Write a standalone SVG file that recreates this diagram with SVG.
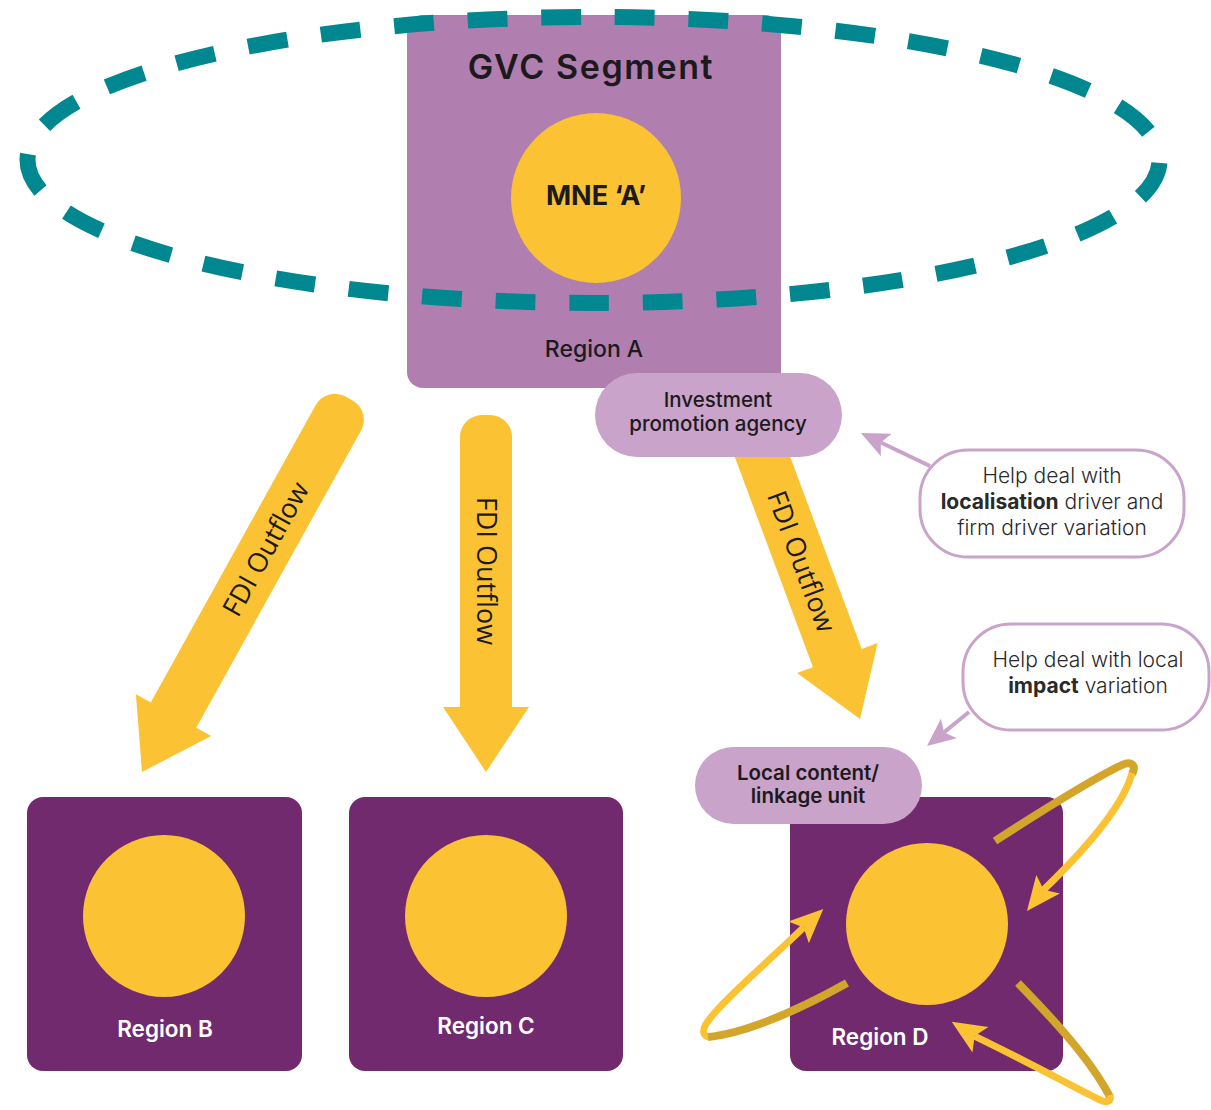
<svg xmlns="http://www.w3.org/2000/svg" width="1211" height="1110" viewBox="0 0 1211 1110">
  <defs>
    <style>
      .lbl { font-family: "Inter", "Liberation Sans", sans-serif; fill: #1c1a1c; text-anchor: middle; }
      .region { font-family: "Inter", "Liberation Sans", sans-serif; fill: #ffffff; font-size: 22.5px; font-weight: 600; text-anchor: middle; }
      .flow { font-family: "Open Sans", "Liberation Sans", sans-serif; fill: #1c1a1c; font-size: 27px; text-anchor: middle; }
      .box-dark { fill: #722a6f; }
      .sun { fill: #fbc234; }
      .pill { fill: #c9a3c9; }
      .callout { fill: #ffffff; stroke: #c9a3c9; stroke-width: 3; }
      .pointer { stroke: #c9a3c9; stroke-width: 4; fill: none; }
      .back { fill: none; stroke: #d4a52b; stroke-width: 8; }
      .front { fill: none; stroke: #fbc234; stroke-width: 7; }
      .note { font-family: "Inter", "Liberation Sans", sans-serif; fill: #2a2a2a; font-size: 21px; font-weight: 300; text-anchor: middle; }
    </style>
    <marker id="lilacHead" markerUnits="userSpaceOnUse" markerWidth="40" markerHeight="40" orient="auto" overflow="visible" refX="0" refY="0">
      <path d="M22,0 L-6,-12.5 L0,0 L-6,12.5 Z" fill="#c9a3c9"/>
    </marker>
    <path id="orbitHead" d="M0,0 L-34,-15 L-27,0 L-34,15 Z" fill="#fbc234"/>
  </defs>

  <rect width="1211" height="1110" fill="#ffffff"/>

  <!-- FDI outflow arrows -->
  <g id="flows">
    <g id="flow-b" transform="translate(142,772) rotate(29)">
      <path class="sun" d="M-26,-65 L-26,-405 A22,22 0 0 1 -4,-427 L4,-427 A22,22 0 0 1 26,-405 L26,-65 L43,-65 L0,0 L-43,-65 Z"/>
      <text class="flow" transform="translate(0,-255) rotate(-90)" dy="0.35em">FDI Outflow</text>
    </g>
    <g id="flow-c" transform="translate(486,772)">
      <path class="sun" d="M-26,-65 L-26,-335 A22,22 0 0 1 -4,-357 L4,-357 A22,22 0 0 1 26,-335 L26,-65 L43,-65 L0,0 L-43,-65 Z"/>
      <text class="flow" transform="translate(0,-201) rotate(90)" dy="0.35em">FDI Outflow</text>
    </g>
    <g id="flow-d" transform="translate(860,719) rotate(-20.4)">
      <path class="sun" d="M-26,-65 L-26,-330 A22,22 0 0 1 -4,-352 L4,-352 A22,22 0 0 1 26,-330 L26,-65 L43,-65 L0,0 L-43,-65 Z"/>
      <text class="flow" transform="translate(0,-168) rotate(90)" dy="0.35em">FDI Outflow</text>
    </g>
  </g>

  <!-- Region A with the lead firm -->
  <g id="region-a">
    <rect x="407" y="15" width="374" height="373" rx="16" fill="#b07fb0"/>
    <text class="lbl" x="591" y="79" font-size="34" font-weight="600" letter-spacing="1.6">GVC Segment</text>
    <circle class="sun" cx="596" cy="198" r="85"/>
    <text class="lbl" x="596" y="205" font-size="27" font-weight="700">MNE ‘A’</text>
    <text class="lbl" x="594" y="357" font-size="23" font-weight="500">Region A</text>
  </g>

  <!-- GVC segment boundary -->
  <g id="gvc-boundary">
    <ellipse cx="593.5" cy="160" rx="566" ry="143" fill="none" stroke="#00878f" stroke-width="16" pathLength="330" stroke-dasharray="5.4 4.6" stroke-dashoffset="9.6"/>
  </g>

  <g id="ipa">
    <rect class="pill" x="595" y="373" width="247" height="84" rx="42"/>
    <text class="lbl" x="718" y="407" font-size="20.5" font-weight="500">Investment</text>
    <text class="lbl" x="718" y="431" font-size="20.5" font-weight="500">promotion agency</text>
  </g>

  <g id="region-b">
    <rect class="box-dark" x="27" y="797" width="275" height="274" rx="16"/>
    <circle class="sun" cx="164" cy="916" r="81"/>
    <text class="region" x="165" y="1037">Region B</text>
  </g>

  <g id="region-c">
    <rect class="box-dark" x="349" y="797" width="274" height="274" rx="16"/>
    <circle class="sun" cx="486" cy="916" r="81"/>
    <text class="region" x="486" y="1034">Region C</text>
  </g>

  <g id="region-d">
    <rect class="box-dark" x="790" y="797" width="273" height="274" rx="16"/>
    <circle class="sun" cx="927" cy="924" r="81"/>
    <text class="region" x="880" y="1045">Region D</text>
  </g>

  <!-- linkage loops around Region D -->
  <g id="loops">
    <path class="back" d="M995,841 C1040,812 1090,780 1122,765 C1131,761 1137,765 1132,774"/>
    <path class="front" d="M1132,773 C1125,800 1095,840 1043.7,889.8"/>
    <use href="#orbitHead" transform="translate(1027,911) rotate(128.3)"/>

    <path class="front" d="M803.6,927.5 C760,969 718,1005 706,1024 C702,1031 703,1036 709,1037"/>
    <path class="back" d="M708,1037 C740,1034 790,1015 847,983"/>
    <use href="#orbitHead" transform="translate(823.3,909) rotate(-43.3)"/>

    <path class="back" d="M1018,983 C1050,1016 1090,1058 1110,1097"/>
    <path class="front" d="M974.5,1036.1 C1020,1058 1070,1085 1098,1099 C1106,1103 1112,1103 1110,1095"/>
    <use href="#orbitHead" transform="translate(951.7,1021.7) rotate(-147.8)"/>
  </g>

  <g id="local-unit">
    <rect class="pill" x="695" y="747" width="227" height="77" rx="38.5"/>
    <text class="lbl" x="808" y="780" font-size="20.5" font-weight="600">Local content/</text>
    <text class="lbl" x="808" y="803" font-size="20.5" font-weight="600">linkage unit</text>
  </g>

  <g id="note-localisation">
    <rect class="callout" x="920" y="450" width="264" height="107" rx="48"/>
    <text class="note" x="1052" y="483">Help deal with</text>
    <text class="note" x="1052" y="509"><tspan font-weight="700">localisation</tspan> driver and</text>
    <text class="note" x="1052" y="535">firm driver variation</text>
  </g>

  <g id="note-impact">
    <rect class="callout" x="963" y="624" width="246" height="106" rx="48"/>
    <text class="note" x="1088" y="667">Help deal with local</text>
    <text class="note" x="1088" y="693"><tspan font-weight="700">impact</tspan> variation</text>
  </g>

  <!-- pointers from the notes -->
  <g id="connectors">
    <line class="pointer" x1="930" y1="466" x2="880.8" y2="442.5" marker-end="url(#lilacHead)"/>
    <line class="pointer" x1="969" y1="712" x2="944.1" y2="732.2" marker-end="url(#lilacHead)"/>
  </g>
</svg>
